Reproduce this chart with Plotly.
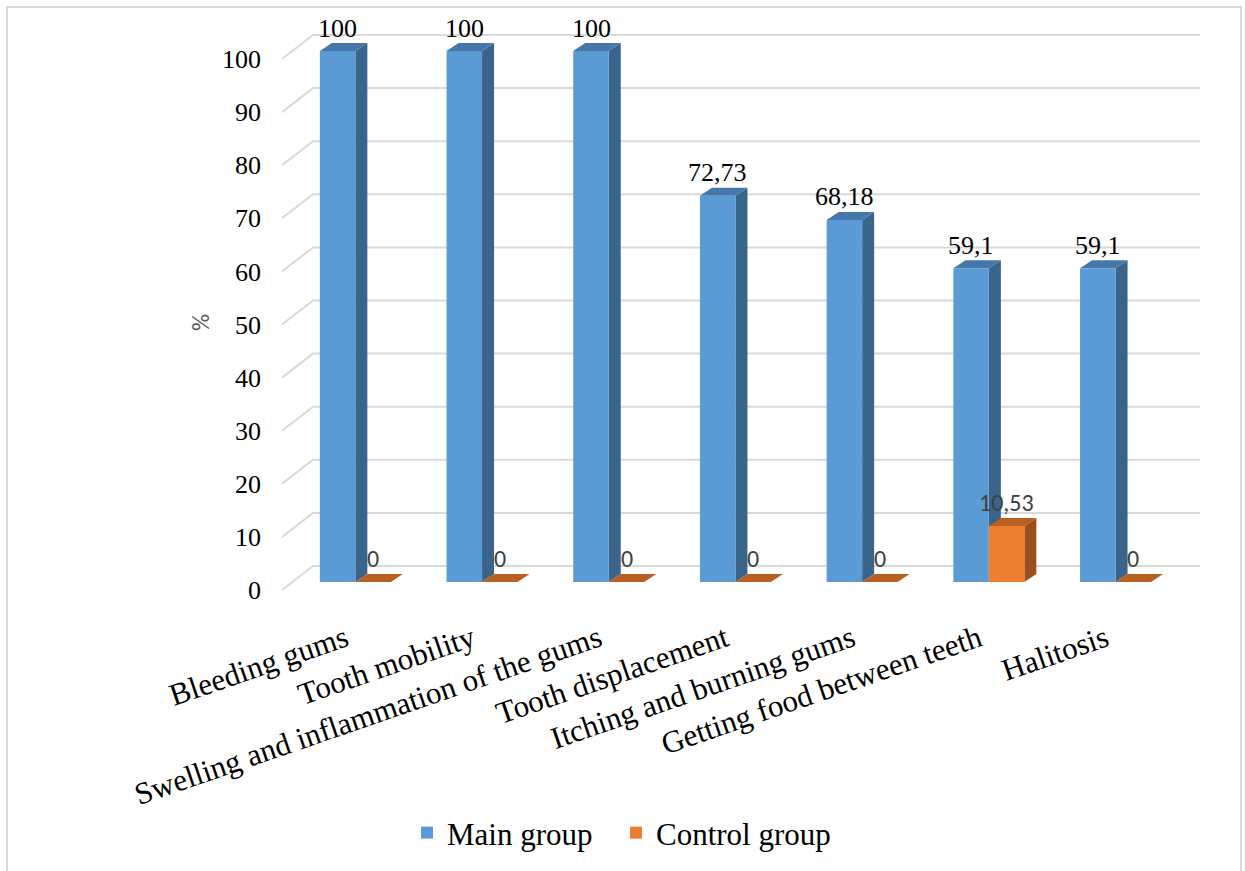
import plotly.graph_objects as go

# ---- data ----
categories = [
    "Bleeding gums",
    "Tooth mobility",
    "Swelling and inflammation of the gums",
    "Tooth displacement",
    "Itching and burning gums",
    "Getting food between teeth",
    "Halitosis",
]
main_group = [100, 100, 100, 72.73, 68.18, 59.1, 59.1]
control_group = [0, 0, 0, 0, 0, 10.53, 0]
y_ticks = [0, 10, 20, 30, 40, 50, 60, 70, 80, 90, 100]

SERIF = "Times New Roman, Liberation Serif, serif"
SANS = "Carlito, Liberation Sans, sans-serif"

# ---- page geometry (pixels) ----
W, H = 1245, 871
PLOT_L, PLOT_R, PLOT_T, PLOT_B = 282, 1200, 20, 600
FLOOR_Y0 = 590          # pixel row of the floor's front edge at value 0
CAT_PX = 126.7          # pixels per category
VAL_PX = 5.31           # pixels per percentage point


def ux(px):
    return px / CAT_PX


def uy(px):
    return px / VAL_PX


def paper_x(px):
    return (px - PLOT_L) / (PLOT_R - PLOT_L)


def paper_y(px):
    return (PLOT_B - px) / (PLOT_B - PLOT_T)


x_range = [-0.5, -0.5 + ux(PLOT_R - PLOT_L)]
y_range = [-uy(PLOT_B - FLOOR_Y0), uy(FLOOR_Y0 - PLOT_T)]

WALL_DX, WALL_DY = ux(31), uy(24)     # depth of the floor / back wall
PLANE_DX, PLANE_DY = ux(10), uy(8)    # bars stand mid-depth
DEPTH_DX, DEPTH_DY = ux(12), uy(8)    # depth of each column
BAR_W = ux(35.5)

MAIN = dict(front="#5B9BD5", side="#3A6489", top="#4677AA")
CTRL = dict(front="#ED7D31", side="#9C4F1C", top="#BA5F22")

idx = list(range(len(categories)))


def fmt(v):
    return f"{v:g}".replace(".", ",")


def poly(points):
    return "M " + " L ".join(f"{x},{y}" for x, y in points) + " Z"


shapes = []

# gridlines: diagonal along the floor side wall, then across the back wall
for v in y_ticks:
    x0 = x_range[0]
    shapes.append(dict(
        type="path", xref="x", yref="y", layer="below",
        path=f"M {x0},{v} L {x0 + WALL_DX},{v + WALL_DY} L {x_range[1]},{v + WALL_DY}",
        line=dict(color="#D9D9D9", width=2),
    ))

# side and top faces of the 3-D columns
for values, offset, col in ((main_group, PLANE_DX - BAR_W, MAIN), (control_group, PLANE_DX, CTRL)):
    for i, v in zip(idx, values):
        left = i + offset
        right = left + BAR_W
        base = PLANE_DY
        top = PLANE_DY + v
        shapes.append(dict(
            type="path", xref="x", yref="y", layer="below",
            path=poly([(right, base), (right, top), (right + DEPTH_DX, top + DEPTH_DY),
                       (right + DEPTH_DX, base + DEPTH_DY)]),
            fillcolor=col["side"], line=dict(width=0),
        ))
        shapes.append(dict(
            type="path", xref="x", yref="y", layer="below",
            path=poly([(left, top), (right, top), (right + DEPTH_DX, top + DEPTH_DY),
                       (left + DEPTH_DX, top + DEPTH_DY)]),
            fillcolor=col["top"], line=dict(width=0),
        ))

# chart border
shapes.append(dict(
    type="rect", xref="paper", yref="paper", layer="above",
    x0=paper_x(7), x1=paper_x(1241), y0=paper_y(880), y1=paper_y(7),
    line=dict(color="#D9D9D9", width=2), fillcolor="rgba(0,0,0,0)",
))

fig = go.Figure()
fig.add_trace(go.Bar(
    name="Main group", x=idx, y=main_group, base=PLANE_DY,
    width=BAR_W, offset=PLANE_DX - BAR_W, legend="legend",
    marker=dict(color=MAIN["front"], line=dict(width=0)),
))
fig.add_trace(go.Bar(
    name="Control group", x=idx, y=control_group, base=PLANE_DY,
    width=BAR_W, offset=PLANE_DX, legend="legend2",
    marker=dict(color=CTRL["front"], line=dict(width=0)),
))

annotations = []
for i, v in zip(idx, main_group):
    annotations.append(dict(
        x=i + PLANE_DX - BAR_W / 2, y=PLANE_DY + v, xref="x", yref="y",
        text=fmt(v), showarrow=False, yanchor="middle", yshift=23,
        font=dict(family=SERIF, size=26, color="#000000"),
    ))
for i, v in zip(idx, control_group):
    annotations.append(dict(
        x=i + PLANE_DX + BAR_W / 2, y=PLANE_DY + v, xref="x", yref="y",
        text=fmt(v), showarrow=False, yanchor="middle", yshift=24,
        font=dict(family=SANS, size=24, color="#404040"),
    ))
annotations.append(dict(
    x=paper_x(200), y=paper_y(323), xref="paper", yref="paper",
    xanchor="center", yanchor="middle",
    text="%", textangle=-90, showarrow=False,
    font=dict(family=SANS, size=24, color="#595959"),
))

legend_style = dict(
    orientation="h", xanchor="left", y=paper_y(833), yanchor="middle",
    font=dict(family=SERIF, size=31, color="#000000"),
    bgcolor="rgba(0,0,0,0)",
)

fig.update_layout(
    width=W, height=H,
    margin=dict(l=PLOT_L, r=W - PLOT_R, t=PLOT_T, b=H - PLOT_B, autoexpand=False),
    paper_bgcolor="white", plot_bgcolor="rgba(0,0,0,0)",
    barmode="overlay",
    shapes=shapes,
    annotations=annotations,
    showlegend=True,
    legend=dict(x=paper_x(407), **legend_style),
    legend2=dict(x=paper_x(616), **legend_style),
    xaxis=dict(
        range=x_range, tickvals=idx, ticktext=categories, tickangle=-19,
        showgrid=False, zeroline=False, showline=False, ticks="",
        tickfont=dict(family=SERIF, size=31, color="#000000"),
        ticklabelstandoff=14, automargin=False, fixedrange=True,
    ),
    yaxis=dict(
        range=y_range, tickvals=y_ticks, ticktext=[str(t) for t in y_ticks],
        showgrid=False, zeroline=False, showline=False, ticks="",
        tickfont=dict(family=SERIF, size=26, color="#000000"),
        ticklabelstandoff=20, automargin=False, fixedrange=True,
    ),
)

fig.write_html("out.html")
